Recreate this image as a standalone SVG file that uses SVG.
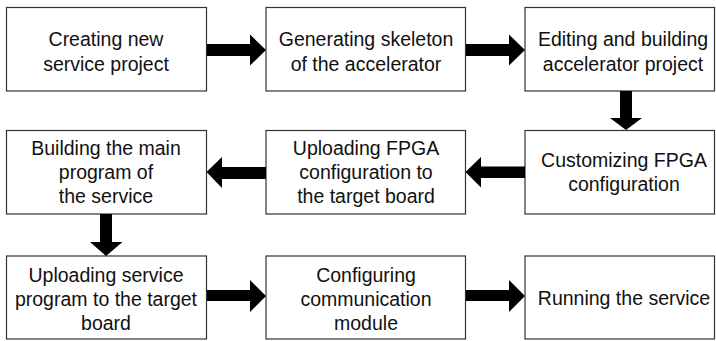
<svg xmlns="http://www.w3.org/2000/svg" width="716" height="341" viewBox="0 0 716 341">
  <style>
    .box { fill: #ffffff; stroke: #333333; stroke-width: 1.2; }
    .lbl { font-family: "Liberation Sans", Arial, sans-serif; font-size: 19.5px; fill: #111111; text-anchor: middle; }
    .arr { fill: #000000; stroke: none; }
  </style>
  <rect width="716" height="341" fill="#ffffff"/>

  <!-- Row 1 -->
  <g id="node-create">
    <rect class="box" x="6.5" y="7.5" width="200" height="83.5"/>
    <text class="lbl" x="106" y="46">Creating new</text>
    <text class="lbl" x="106" y="70.5">service project</text>
  </g>
  <g id="node-skeleton">
    <rect class="box" x="266" y="7.5" width="199.5" height="83.5"/>
    <text class="lbl" x="366" y="46">Generating skeleton</text>
    <text class="lbl" x="366" y="70.5">of the accelerator</text>
  </g>
  <g id="node-edit">
    <rect class="box" x="525" y="7.5" width="189.5" height="83.5"/>
    <text class="lbl" x="623" y="46">Editing and building</text>
    <text class="lbl" x="623" y="70.5">accelerator project</text>
  </g>

  <!-- Row 2 -->
  <g id="node-customize">
    <rect class="box" x="525" y="130.5" width="189.5" height="83.5"/>
    <text class="lbl" x="624" y="166.5">Customizing FPGA</text>
    <text class="lbl" x="624" y="191">configuration</text>
  </g>
  <g id="node-upload-fpga">
    <rect class="box" x="266" y="130.5" width="199.5" height="83.5"/>
    <text class="lbl" x="366" y="155">Uploading FPGA</text>
    <text class="lbl" x="366" y="179">configuration to</text>
    <text class="lbl" x="366" y="203">the target board</text>
  </g>
  <g id="node-build-main">
    <rect class="box" x="6.5" y="130.5" width="200" height="83.5"/>
    <text class="lbl" x="106" y="154.5">Building the main</text>
    <text class="lbl" x="106" y="179">program of</text>
    <text class="lbl" x="106" y="203">the service</text>
  </g>

  <!-- Row 3 -->
  <g id="node-upload-service">
    <rect class="box" x="6.5" y="256" width="200" height="83"/>
    <text class="lbl" x="106" y="282">Uploading service</text>
    <text class="lbl" x="106" y="306">program to the target</text>
    <text class="lbl" x="106" y="330">board</text>
  </g>
  <g id="node-comm">
    <rect class="box" x="266" y="256" width="199.5" height="83"/>
    <text class="lbl" x="366" y="282">Configuring</text>
    <text class="lbl" x="366" y="306">communication</text>
    <text class="lbl" x="366" y="330">module</text>
  </g>
  <g id="node-run">
    <rect class="box" x="525" y="256" width="189.5" height="83"/>
    <text class="lbl" x="624" y="305">Running the service</text>
  </g>

  <!-- Block arrows between steps -->
  <g id="connectors">
    <!-- row 1, left to right -->
    <polygon class="arr" points="207,44 250,44 250,34.5 266,50 250,65.5 250,56 207,56"/>
    <polygon class="arr" points="466,44 509,44 509,34.5 525,50 509,65.5 509,56 466,56"/>
    <!-- down from row 1 to row 2 -->
    <polygon class="arr" points="620,91 632,91 632,118 642,118 626,130 610,118 620,118"/>
    <!-- row 2, right to left -->
    <polygon class="arr" points="525,166.5 481,166.5 481,157 465.5,172 481,187.5 481,178 525,178"/>
    <polygon class="arr" points="266,167 222,167 222,157 206.5,172 222,188 222,179 266,179"/>
    <!-- down from row 2 to row 3 -->
    <polygon class="arr" points="100,214 112,214 112,242 122.5,242 106,256 90,242 100,242"/>
    <!-- row 3, left to right -->
    <polygon class="arr" points="207,290 250,290 250,280 266,296 250,312 250,301 207,301"/>
    <polygon class="arr" points="466,290 509,290 509,280 525,296 509,312 509,301 466,301"/>
  </g>
</svg>
